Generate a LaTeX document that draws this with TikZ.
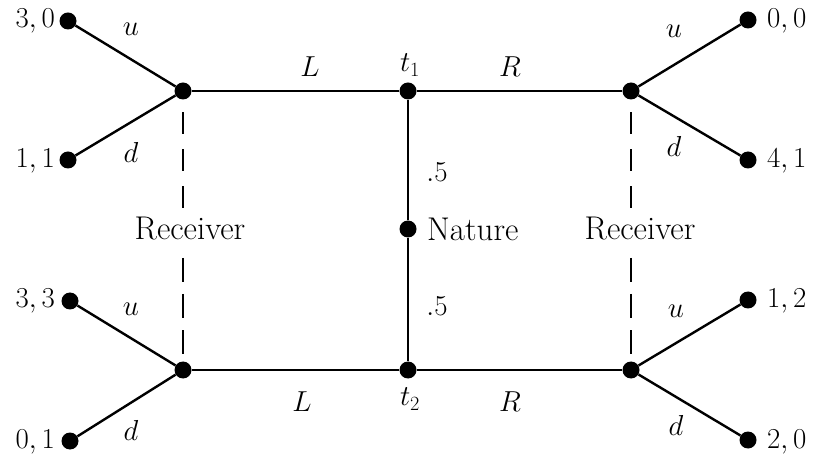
\RequirePackage{fix-cm}
\documentclass[tikz,border=0pt]{standalone}
\begin{document}
\begin{tikzpicture}[x=1bp,y=-1bp,
  edge/.style={line width=2.4bp},
  info/.style={line width=2.4bp,dash pattern=on 22bp off 15bp},
  infob/.style={line width=2.4bp,dash pattern=on 24bp off 12bp},
  dotnode/.style={circle,fill=black,inner sep=0pt,minimum size=17bp},
  lbl/.style={font=\fontsize{29}{34}\selectfont,inner sep=0pt},
  word/.style={font=\fontsize{33}{38}\selectfont,inner sep=0pt}]
\useasboundingbox (0,0) rectangle (822,457);
% decision nodes
\node[dotnode] (A) at (183,91) {};
\node[dotnode] (t1) at (408,91) {};
\node[dotnode] (B) at (631,91) {};
\node[dotnode] (N) at (408,229) {};
\node[dotnode] (C) at (183,370) {};
\node[dotnode] (t2) at (408,370) {};
\node[dotnode] (D) at (631,370) {};
% terminals
\node[dotnode] (a1) at (68,21) {};
\node[dotnode] (a2) at (68,160) {};
\node[dotnode] (b1) at (748,20) {};
\node[dotnode] (b2) at (748,160) {};
\node[dotnode] (c1) at (70,301) {};
\node[dotnode] (c2) at (70,441) {};
\node[dotnode] (d1) at (748,300) {};
\node[dotnode] (d2) at (748,440) {};
% edges
\draw[edge] (N) -- (t1);
\draw[edge] (N) -- (t2);
\draw[edge] (t1) -- (A);
\draw[edge] (t1) -- (B);
\draw[edge] (t2) -- (C);
\draw[edge] (t2) -- (D);
\draw[edge] (A) -- (a1);
\draw[edge] (A) -- (a2);
\draw[edge] (B) -- (b1);
\draw[edge] (B) -- (b2);
\draw[edge] (C) -- (c1);
\draw[edge] (C) -- (c2);
\draw[edge] (D) -- (d1);
\draw[edge] (D) -- (d2);
% information sets
\node[word] (recL) at (190,229) {Receiver};
\node[word] (recR) at (640,229) {Receiver};
\coordinate (lt) at (183,208);
\coordinate (lb) at (183,258);
\coordinate (rt) at (631,208);
\coordinate (rb) at (631,258);
\draw[info] (lt) -- (A);
\draw[infob] (lb) -- (C);
\draw[info] (rt) -- (B);
\draw[infob] (rb) -- (D);
% payoffs
\node[lbl,anchor=east] at (55,21) {$3,0$};
\node[lbl,anchor=east] at (55,161) {$1,1$};
\node[lbl,anchor=east] at (55,301) {$3,3$};
\node[lbl,anchor=east] at (55,442) {$0,1$};
\node[lbl,anchor=west] at (767,21) {$0,0$};
\node[lbl,anchor=west] at (767,161) {$4,1$};
\node[lbl,anchor=west] at (767,301) {$1,2$};
\node[lbl,anchor=west] at (767,442) {$2,0$};
% action labels
\node[lbl] at (131,29) {$u$};
\node[lbl] at (131,152) {$d$};
\node[lbl] at (131,309) {$u$};
\node[lbl] at (131,430) {$d$};
\node[lbl] at (674,31) {$u$};
\node[lbl] at (674,146) {$d$};
\node[lbl] at (676,311) {$u$};
\node[lbl] at (676,425) {$d$};
\node[lbl] at (310,67) {$L$};
\node[lbl] at (510,67) {$R$};
\node[lbl] at (302,402) {$L$};
\node[lbl] at (510,402) {$R$};
\node[lbl] at (410,65) {$t_1$};
\node[lbl] at (410,399) {$t_2$};
\node[lbl] at (437,172) {$.5$};
\node[lbl] at (437,306) {$.5$};
\node[word,anchor=west] at (427,229) {Nature};
\end{tikzpicture}
\end{document}
